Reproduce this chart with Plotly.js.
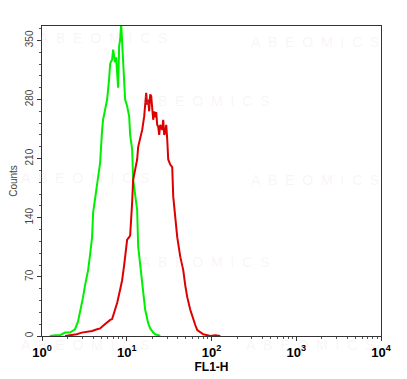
<!DOCTYPE html>
<html>
<head>
<meta charset="utf-8">
<script src="https://cdn.plot.ly/plotly-3.0.1.min.js"></script>
<style>html,body{margin:0;padding:0;background:#fff;}#chart{width:407px;height:379px;}</style>
</head>
<body>
<div id="chart"></div>
<script>
// Green histogram (control)
var greenX = [1.24,1.42,1.63,1.87,2.14,2.26,2.45,2.66,2.81,3.05,3.22,3.50,3.69,3.90,4.01,4.23,4.47,4.72,4.85,5.12,5.26,5.55,5.87,6.19,6.37,6.54,6.72,6.91,7.10,7.29,7.49,7.70,7.91,8.13,8.36,8.59,8.82,9.07,9.32,9.57,10.11,10.68,10.97,11.58,11.90,12.57,13.27,13.64,14.40,15.21,16.5,17.91,18.91,20.52,21.67,23.51,24.82];
var greenY = [0,1,1,4,4,6,8,17,28,46,60,78,96,117,146,161,177,197,205,244,256,268,280,304,322,325,327,339,327,324,330,310,294,343,351,370,345,316,298,280,272,260,238,221,185,167,149,106,84,66,31,15,9,4,2,1,0];
// Red histogram (stained)
var redX = [1.87,2.14,2.56,2.94,3.37,3.90,4.47,4.85,5.26,5.55,5.87,6.37,6.72,7.29,7.70,8.36,8.82,9.32,9.57,10.11,10.68,10.97,11.58,11.90,12.57,13.27,13.64,14.40,15.21,16.06,16.50,16.96,17.43,17.91,18.40,18.91,19.43,19.97,20.52,21.08,21.67,22.26,22.88,23.51,24.15,24.82,26.21,26.93,27.67,28.44,29.22,30.03,30.86,32.58,34.40,35.36,37.33,39.42,42.78,46.42,49.01,51.75,56.16,60.95,64.36,67.95,73.74,80.02,89.20,96.8,110.9,127.1];
var redY = [0,1,2,4,5,6,8,9,12,14,17,19,20,31,39,55,66,84,94,114,117,119,158,185,197,209,224,235,244,260,280,288,274,280,266,286,284,266,256,266,259,265,250,248,238,250,244,256,238,241,250,233,209,203,200,165,144,117,94,78,60,46,31,19,13,7,4,2,1,0,1,0];
// Axis ticks
var yTicks = [0,70,140,210,280,350];
var xTicks = [1,10,100,1000,10000];
var xTickText = ['<b>10<sup>0</sup></b>','<b>10<sup>1</sup></b>','<b>10<sup>2</sup></b>','<b>10<sup>3</sup></b>','<b>10<sup>4</sup></b>'];
var watermark = 'A\u00a0\u00a0B\u00a0\u00a0E\u00a0\u00a0O\u00a0\u00a0M\u00a0\u00a0I\u00a0\u00a0C\u00a0\u00a0S';

var xMinor = [];
[1,10,100,1000].forEach(function(d){for(var k=2;k<=9;k++){xMinor.push(d*k);}});
var yMinor = [];
for (var v=14; v<367; v+=14) { if (v%70!==0) yMinor.push(v); }

function px2paperX(px){return (px-42)/339;}
function px2paperY(py){return (336-py)/310;}
var wmPos = [[103,38],[315,42],[205,101],[85,178],[315,180],[205,262],[85,345],[310,345]];
var annotations = wmPos.map(function(p){
  return {text: watermark, xref:'paper', yref:'paper', x:px2paperX(p[0]), y:px2paperY(p[1]),
    xanchor:'center', yanchor:'middle', showarrow:false,
    font:{family:'Liberation Sans, Arial', size:14, color:'rgba(220,190,200,0.16)'}};
});

var traces = [
  {x: greenX, y: greenY, type:'scatter', mode:'lines', line:{color:'#00ee00', width:2}, hoverinfo:'skip'},
  {x: redX, y: redY, type:'scatter', mode:'lines', line:{color:'#dd0000', width:2}, hoverinfo:'skip'}
];

var layout = {
  width:407, height:379,
  margin:{l:42, r:26, t:26, b:43},
  paper_bgcolor:'#fff', plot_bgcolor:'#fff',
  showlegend:false,
  annotations: annotations,
  xaxis:{
    type:'log', range:[0,4], tickvals:xTicks, ticktext:xTickText,
    ticks:'outside', ticklen:4, tickcolor:'#333',
    minor:{tickvals:xMinor, ticks:'outside', ticklen:2, tickcolor:'#555'},
    showgrid:false, zeroline:false,
    showline:true, mirror:true, linecolor:'#333', linewidth:1,
    tickfont:{family:'Liberation Sans, Arial', size:13, color:'#000'},
    title:{text:'<b>FL1-H</b>', font:{family:'Liberation Sans, Arial', size:12, color:'#000'}, standoff:0}
  },
  yaxis:{
    range:[0,367], tickvals:yTicks, tickangle:-90,
    ticks:'outside', ticklen:4, tickcolor:'#333',
    minor:{tickvals:yMinor, ticks:'outside', ticklen:2, tickcolor:'#555'},
    showgrid:false, zeroline:false,
    showline:true, mirror:true, linecolor:'#333', linewidth:1,
    tickfont:{family:'Liberation Sans, Arial', size:10, color:'#444'},
    title:{text:'Counts', font:{family:'Liberation Sans, Arial', size:10, color:'#444'}, standoff:4}
  }
};

Plotly.newPlot('chart', traces, layout, {displayModeBar:false, staticPlot:true});
</script>
</body>
</html>
